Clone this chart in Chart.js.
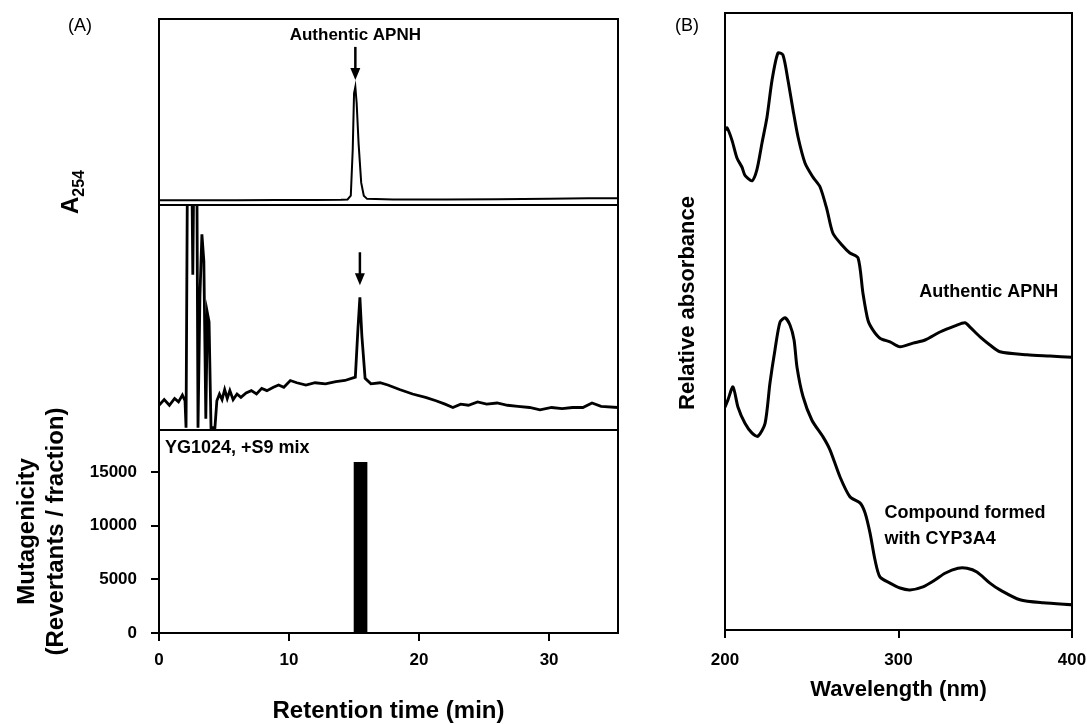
<!DOCTYPE html>
<html>
<head>
<meta charset="utf-8">
<title>APNH HPLC / mutagenicity / UV</title>
<script src="https://cdn.jsdelivr.net/npm/chart.js@4.4.1/dist/chart.umd.min.js"></script>
<style>
  body { margin: 0; background: #fff; }
  #fig { position: relative; width: 1087px; height: 724px; font-family: 'Liberation Sans', Arial, sans-serif; color: #000; }
  #fig canvas { position: absolute; left: 0; top: 0; }
  .lab { position: absolute; white-space: nowrap; transform: translate(-50%, -50%); }
</style>
</head>
<body>
<div id="fig">
  <canvas id="hplcStd" width="1087" height="724"></canvas>
  <canvas id="hplcSample" width="1087" height="724"></canvas>
  <canvas id="mutaChart" width="1087" height="724"></canvas>
  <canvas id="uvChart" width="1087" height="724"></canvas>
  <div class="lab" style="left:80px; top:25px; font-size:18px;">(A)</div>
  <div class="lab" style="left:687px; top:25px; font-size:18px;">(B)</div>
  <div class="lab" style="left:72px; top:192px; font-size:24px; font-weight:bold; transform:translate(-50%,-50%) rotate(-90deg);">A<sub style="font-size:16px;">254</sub></div>
</div>
<script>
  // --- (A) HPLC, authentic APNH (A254, relative units)
  const stdTime = [0, 3, 6, 9, 12, 14.0, 14.5, 14.75, 14.9, 15.0, 15.1, 15.2, 15.35, 15.55, 15.75, 16.0, 18, 22, 26, 30, 33, 35.3];
  const stdAbs  = [0.025, 0.026, 0.026, 0.027, 0.027, 0.028, 0.03, 0.05, 0.3, 0.6, 0.635, 0.55, 0.33, 0.12, 0.05, 0.033, 0.03, 0.03, 0.031, 0.033, 0.036, 0.036];

  // --- (A) HPLC, incubation with CYP3A4
  const sampleTime = [0, 0.4, 0.8, 1.2, 1.5, 1.8, 2.0, 2.08, 2.2, 2.5, 2.6, 2.7, 2.9, 3.0, 3.15, 3.3, 3.45, 3.6, 3.72, 3.85,
    4.0, 4.3, 4.45, 4.65, 4.85, 5.05, 5.25, 5.45, 5.7, 6.0, 6.3, 6.7, 7.1, 7.5, 7.9, 8.3, 8.8, 9.2, 9.6, 10.1,
    10.6, 11.3, 12.0, 12.8, 13.6, 14.3, 15.1, 15.3, 15.45, 15.6, 15.85, 16.3, 17.0, 17.6, 18.5, 19.5, 20.5, 21.3, 22.0, 22.6,
    23.2, 23.8, 24.5, 25.2, 26.0, 26.8, 27.6, 28.5, 29.3, 30.2, 31.0, 31.8, 32.6, 33.3, 34.0, 35.3];
  const sampleAbs = [0.11, 0.135, 0.11, 0.14, 0.125, 0.155, 0.13, 0.01, 1.3, 1.3, 0.69, 1.3, 1.3, 0.01, 0.6, 0.87, 0.75, 0.05, 0.52, 0.48,
    0.01, 0.01, 0.13, 0.16, 0.135, 0.18, 0.14, 0.175, 0.135, 0.16, 0.145, 0.165, 0.175, 0.16, 0.185, 0.175, 0.19, 0.2, 0.19, 0.22,
    0.21, 0.2, 0.21, 0.205, 0.215, 0.22, 0.235, 0.45, 0.59, 0.42, 0.23, 0.205, 0.21, 0.2, 0.18, 0.16, 0.145, 0.13, 0.115, 0.1,
    0.115, 0.11, 0.125, 0.115, 0.12, 0.11, 0.105, 0.1, 0.09, 0.1, 0.095, 0.1, 0.1, 0.12, 0.105, 0.1];

  // --- (A) mutagenicity of 1-min fractions, YG1024 +S9 mix
  const fractionTime = [0.5, 1.5, 2.5, 3.5, 4.5, 5.5, 6.5, 7.5, 8.5, 9.5, 10.5, 11.5, 12.5, 13.5, 14.5, 15.5, 16.5,
    17.5, 18.5, 19.5, 20.5, 21.5, 22.5, 23.5, 24.5, 25.5, 26.5, 27.5, 28.5, 29.5, 30.5, 31.5, 32.5, 33.5, 34.5];
  const revertants = [0, 0, 0, 0, 0, 0, 0, 0, 0, 0, 0, 0, 0, 0, 0, 15900, 0,
    0, 0, 0, 0, 0, 0, 0, 0, 0, 0, 0, 0, 0, 0, 0, 0, 0, 0];
  const timeTicks = [0, 10, 20, 30];
  const revertantTicks = [0, 5000, 10000, 15000];

  // --- (B) UV spectra (relative absorbance)
  const apnhWavelength = [200, 201.2, 204, 206.9, 209.8, 211.5, 215.6, 218.4, 221.3, 224.2, 227.1, 230.5, 233.4, 236.3,
    239.2, 242.1, 246.1, 250.7, 254.8, 258.8, 262.2, 267.4, 272, 276.7, 279.5, 282.4, 285.3, 289.3, 295.1, 300.9,
    308.4, 315.3, 323.9, 332.6, 338.3, 341.2, 347, 352.7, 358.5, 374.1, 387.3, 400];
  const apnhAbs = [0.81, 0.814, 0.794, 0.765, 0.75, 0.737, 0.728, 0.746, 0.789, 0.831, 0.891, 0.935, 0.932, 0.891,
    0.843, 0.799, 0.757, 0.734, 0.718, 0.681, 0.643, 0.624, 0.611, 0.603, 0.546, 0.502, 0.486, 0.473, 0.467, 0.459,
    0.465, 0.47, 0.483, 0.493, 0.498, 0.491, 0.475, 0.462, 0.451, 0.446, 0.444, 0.442];
  const cypWavelength = [200, 201.7, 204.6, 207.5, 211.5, 215.6, 219, 223.1, 225.9, 228.8, 231.7, 234.6, 237.5, 239.8,
    241.5, 245, 250.1, 256.5, 260.5, 266.3, 272, 277.8, 280.7, 283.6, 286.5, 289.3, 295.1, 300.9, 306.6, 314.1,
    321, 326.8, 334.3, 339.5, 345.2, 352.7, 358.5, 370, 383.3, 400];
  const cypAbs = [0.361, 0.373, 0.394, 0.361, 0.335, 0.319, 0.314, 0.335, 0.4, 0.454, 0.499, 0.506, 0.494, 0.47,
    0.426, 0.378, 0.34, 0.313, 0.292, 0.248, 0.216, 0.206, 0.19, 0.157, 0.113, 0.086, 0.076, 0.068, 0.065, 0.07,
    0.081, 0.092, 0.1, 0.1, 0.094, 0.076, 0.065, 0.049, 0.044, 0.041];
  const wavelengthTicks = [200, 300, 400];

  const FONT = "'Liberation Sans', Arial, sans-serif";
  Chart.defaults.font.family = FONT;
  Chart.defaults.color = '#000';

  const toXY = (xs, ys) => xs.map((x, i) => ({ x: x, y: ys[i] }));
  const fixTicks = list => scale => { scale.ticks = list.map(v => ({ value: v })); };

  // box round the plot area
  const framePlugin = {
    id: 'frame',
    afterDatasetsDraw(chart) {
      const { ctx, chartArea: a } = chart;
      ctx.save();
      ctx.strokeStyle = '#000';
      ctx.lineWidth = 2;
      ctx.strokeRect(a.left, a.top, a.right - a.left, a.bottom - a.top);
      ctx.restore();
    }
  };

  function arrowPlugin(time, value, gap, len, label) {
    return {
      id: 'arrow',
      afterDatasetsDraw(chart) {
        const { ctx, scales } = chart;
        const x = scales.x.getPixelForValue(time);
        const tip = scales.y.getPixelForValue(value) - gap;
        ctx.save();
        ctx.strokeStyle = '#000';
        ctx.fillStyle = '#000';
        ctx.lineWidth = 2.5;
        ctx.beginPath();
        ctx.moveTo(x, tip - len);
        ctx.lineTo(x, tip - 10);
        ctx.stroke();
        ctx.beginPath();
        ctx.moveTo(x - 5, tip - 12);
        ctx.lineTo(x + 5, tip - 12);
        ctx.lineTo(x, tip);
        ctx.closePath();
        ctx.fill();
        if (label) {
          ctx.font = 'bold 17px ' + FONT;
          ctx.textAlign = 'center';
          ctx.textBaseline = 'middle';
          ctx.fillText(label, x, tip - len - 12);
        }
        ctx.restore();
      }
    };
  }

  function traceChart(id, xs, ys, padding, lineWidth, arrow) {
    new Chart(document.getElementById(id), {
      type: 'line',
      data: {
        datasets: [{
          data: toXY(xs, ys),
          borderColor: '#000',
          borderWidth: lineWidth,
          pointRadius: 0,
          tension: 0
        }]
      },
      options: {
        responsive: false,
        animation: false,
        layout: { padding: padding },
        plugins: { legend: { display: false }, tooltip: { enabled: false } },
        scales: {
          x: { type: 'linear', min: 0, max: 35.3, display: false },
          y: { min: 0, max: 1, display: false }
        }
      },
      plugins: [framePlugin, arrow]
    });
  }

  traceChart('hplcStd', stdTime, stdAbs, { left: 159, right: 469, top: 19, bottom: 519 }, 2,
    arrowPlugin(15.1, 0.635, 7, 33, 'Authentic APNH'));
  traceChart('hplcSample', sampleTime, sampleAbs, { left: 159, right: 469, top: 205, bottom: 294 }, 2.8,
    arrowPlugin(15.45, 0.59, 12, 33, null));

  const tickGrid = { display: true, drawOnChartArea: false, drawTicks: true, tickLength: 8, lineWidth: 2, color: '#000', offset: false };
  const tickFont = { size: 17, weight: 'bold' };

  new Chart(document.getElementById('mutaChart'), {
    type: 'bar',
    data: {
      datasets: [{
        data: toXY(fractionTime, revertants),
        backgroundColor: '#000',
        borderWidth: 0,
        barPercentage: 1,
        categoryPercentage: 1
      }]
    },
    options: {
      responsive: false,
      animation: false,
      layout: { padding: { left: 0, right: 469, top: 430, bottom: 0 } },
      plugins: { legend: { display: false }, tooltip: { enabled: false } },
      scales: {
        x: {
          type: 'linear', min: 0, max: 35.3, offset: false,
          afterBuildTicks: fixTicks(timeTicks),
          afterFit: s => { s.height = 91; },
          grid: tickGrid,
          border: { display: false },
          ticks: { font: tickFont, padding: 9, maxRotation: 0 },
          title: { display: true, text: 'Retention time (min)', font: { size: 24, weight: 'bold' }, padding: { top: 0, bottom: -2 } }
        },
        y: {
          min: 0, max: 18900,
          afterBuildTicks: fixTicks(revertantTicks),
          afterFit: s => { s.width = 159; },
          grid: tickGrid,
          border: { display: false },
          ticks: { font: tickFont, padding: 14, callback: v => String(v) },
          title: {
            display: true,
            text: ['Mutagenicity', '(Revertants / fraction)'],
            font: { size: 24, weight: 'bold' },
            padding: { top: 13, bottom: 0 }
          }
        }
      }
    },
    plugins: [framePlugin, {
      id: 'strain',
      afterDatasetsDraw(chart) {
        const { ctx, chartArea: a } = chart;
        ctx.save();
        ctx.font = 'bold 18px ' + FONT;
        ctx.textAlign = 'left';
        ctx.textBaseline = 'middle';
        ctx.fillText('YG1024, +S9 mix', a.left + 6, a.top + 18);
        ctx.restore();
      }
    }]
  });

  new Chart(document.getElementById('uvChart'), {
    type: 'line',
    data: {
      datasets: [
        { data: toXY(apnhWavelength, apnhAbs), borderColor: '#000', borderWidth: 3, pointRadius: 0, tension: 0.25 },
        { data: toXY(cypWavelength, cypAbs), borderColor: '#000', borderWidth: 3, pointRadius: 0, tension: 0.25 }
      ]
    },
    options: {
      responsive: false,
      animation: false,
      layout: { padding: { left: 0, right: 15, top: 13, bottom: 0 } },
      plugins: { legend: { display: false }, tooltip: { enabled: false } },
      scales: {
        x: {
          type: 'linear', min: 200, max: 400,
          afterBuildTicks: fixTicks(wavelengthTicks),
          afterFit: s => { s.height = 94; s.paddingLeft = 0; s.paddingRight = 0; },
          grid: tickGrid,
          border: { display: false },
          ticks: { font: tickFont, padding: 12, maxRotation: 0 },
          title: { display: true, text: 'Wavelength (nm)', font: { size: 22, weight: 'bold' }, padding: { top: 0, bottom: 21 } }
        },
        y: {
          min: 0, max: 1,
          afterFit: s => { s.width = 725; },
          grid: { display: false },
          border: { display: false },
          ticks: { display: false }
        }
      }
    },
    plugins: [framePlugin, {
      id: 'spectrumLabels',
      afterDatasetsDraw(chart) {
        const { ctx, scales, chartArea: a } = chart;
        ctx.save();
        ctx.font = 'bold 18px ' + FONT;
        ctx.textBaseline = 'middle';
        ctx.textAlign = 'center';
        ctx.fillText('Authentic APNH', scales.x.getPixelForValue(352), scales.y.getPixelForValue(0.548));
        ctx.textAlign = 'left';
        const lx = scales.x.getPixelForValue(292);
        ctx.fillText('Compound formed', lx, scales.y.getPixelForValue(0.190));
        ctx.fillText('with CYP3A4', lx, scales.y.getPixelForValue(0.147));
        // y-axis caption, sits a little above the middle of the box in the original
        ctx.font = 'bold 22px ' + FONT;
        ctx.textAlign = 'center';
        ctx.translate(a.left - 37, scales.y.getPixelForValue(0.53));
        ctx.rotate(-Math.PI / 2);
        ctx.fillText('Relative absorbance', 0, 0);
        ctx.restore();
      }
    }]
  });
</script>
</body>
</html>
